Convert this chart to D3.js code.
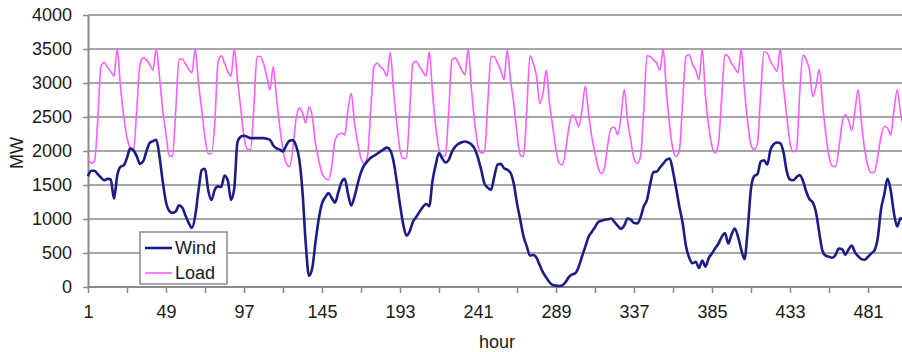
<!DOCTYPE html>
<html>
<head>
<meta charset="utf-8">
<script src="https://cdn.jsdelivr.net/npm/d3@7"></script>
<style>
  body { margin: 0; background: #fff; }
  svg { display: block; font-family: "Liberation Sans", Arial, sans-serif; }
</style>
</head>
<body>
<div id="chart"></div>
<script>
// hourly readings sampled every 2 hours (hour 1, 3, 5 ... 503), one row per day
const hours = d3.range(1, 505, 2);

const wind = [
  1630,1710,1710,1660,1610,1570,1590,1580,1300,1640,1770,1790,
  1900,2040,2010,1925,1810,1850,2000,2120,2145,2165,1920,1550,
  1250,1120,1090,1110,1200,1170,1050,940,870,1050,1420,1720,
  1740,1420,1280,1430,1480,1470,1640,1570,1280,1450,2130,2210,
  2225,2210,2190,2190,2190,2190,2190,2180,2165,2080,2040,2020,
  1995,2080,2150,2160,2080,1880,1400,640,165,280,660,1000,
  1230,1320,1380,1310,1240,1390,1540,1590,1370,1200,1330,1520,
  1690,1790,1850,1900,1930,1960,1995,2025,2050,2010,1850,1550,
  1210,920,755,820,960,1030,1105,1175,1220,1190,1560,1800,
  1970,1890,1830,1870,1990,2065,2105,2130,2140,2125,2095,2030,
  1900,1720,1520,1460,1430,1620,1800,1810,1745,1725,1680,1520,
  1230,990,745,600,460,470,430,320,215,140,70,30,
  20,15,25,75,150,185,205,300,446,590,735,810,
  880,955,975,990,995,1008,955,900,855,905,1005,990,
  940,935,1020,1185,1280,1520,1690,1697,1760,1815,1870,1890,
  1700,1440,1170,930,600,430,350,370,280,390,300,425,
  496,570,640,735,795,640,770,860,740,550,410,850,
  1450,1630,1660,1845,1865,1800,2020,2100,2125,2115,1980,1700,
  1580,1570,1615,1645,1560,1400,1290,1245,1100,800,530,460,
  445,430,470,565,560,475,550,610,510,450,410,400,
  445,495,540,720,1140,1360,1590,1420,1080,890,1010,980
];

const load = [
  1900,1820,1850,2450,3250,3300,3230,3170,3100,3500,2950,2500,
  2200,2040,2000,2600,3280,3370,3340,3270,3190,3500,3090,2600,
  2250,1930,1920,2600,3350,3350,3280,3200,3150,3500,3000,2600,
  2200,1960,1960,2400,3300,3400,3290,3170,3100,3500,3050,2630,
  2210,2030,2020,2600,3390,3390,3290,3100,2900,3240,2780,2360,
  2020,1820,1770,2020,2460,2630,2560,2410,2650,2510,2110,1870,
  1670,1600,1575,1770,2160,2240,2260,2240,2600,2850,2410,2110,
  1890,1820,1920,2600,3240,3290,3240,3190,3100,3450,2900,2410,
  2020,1890,1890,2600,3290,3320,3240,3170,3100,3460,2860,2360,
  2020,1920,1940,2600,3340,3370,3290,3190,3120,3500,2900,2410,
  2070,1970,1990,2700,3390,3390,3290,3190,3050,3490,3050,2700,
  2260,1940,1920,2600,3400,3290,3100,2700,2850,3190,2700,2360,
  2020,1820,1800,2020,2360,2530,2480,2360,2600,2950,2560,2210,
  1970,1750,1670,1770,2120,2340,2350,2240,2510,2900,2460,2160,
  1890,1820,1920,2600,3400,3390,3340,3290,3190,3500,2860,2360,
  2020,1920,2020,2750,3390,3420,3270,3190,3050,3500,2800,2360,
  2070,1970,2120,2800,3420,3390,3290,3220,3150,3500,2900,2410,
  2090,2020,2120,2860,3460,3440,3320,3240,3170,3500,2950,2510,
  2120,1990,2020,2860,3410,3340,3190,2800,2950,3200,2700,2260,
  1920,1780,1770,2020,2400,2530,2460,2300,2600,2900,2410,2020,
  1770,1680,1690,1920,2210,2360,2340,2240,2600,2900,2560,2350
];

const xTickHours = d3.range(1, 505, 24);
const xLabels = [1, 49, 97, 145, 193, 241, 289, 337, 385, 433, 481];
const yTicks = [0, 500, 1000, 1500, 2000, 2500, 3000, 3500, 4000];
const seriesNames = ['Wind', 'Load'];
const seriesColors = ['#1c1c84', '#ff5cff'];

const width = 902, height = 352;
const plotLeft = 88, plotTop = 15, plotBottom = 287, plotRight = 902;
const fontSize = 18;

const svg = d3.select('#chart').append('svg')
  .attr('width', width)
  .attr('height', height);

const x = d3.scaleLinear().domain([1, 504]).range([plotLeft, plotLeft + 503 * 1.625]);
const y = d3.scaleLinear().domain([0, 4000]).range([plotBottom, plotTop]);

// horizontal gridlines
svg.append('g')
  .selectAll('line')
  .data(yTicks.filter(d => d > 0))
  .enter().append('line')
  .attr('x1', plotLeft).attr('x2', plotRight)
  .attr('y1', d => y(d)).attr('y2', d => y(d))
  .attr('stroke', '#a6a6a6')
  .attr('stroke-width', 2);

// y axis
const yAxis = svg.append('g')
  .attr('transform', `translate(${plotLeft},0)`)
  .call(d3.axisLeft(y).tickValues(yTicks).tickFormat(d3.format('d'))
    .tickSize(5).tickPadding(11).tickSizeOuter(0));
yAxis.select('.domain').attr('stroke', '#8a8a8a').attr('stroke-width', 2);
yAxis.selectAll('.tick line').attr('stroke', '#8a8a8a').attr('stroke-width', 1.5);
yAxis.selectAll('text').attr('font-size', fontSize).attr('fill', '#1a1a1a');
yAxis.attr('font-family', null);

// x axis
const xAxis = svg.append('g')
  .attr('transform', `translate(0,${plotBottom})`)
  .call(d3.axisBottom(x).tickValues(xTickHours).tickSize(6).tickPadding(12).tickSizeOuter(0)
    .tickFormat(d => xLabels.includes(d) ? d : ''));
xAxis.select('.domain').attr('d', `M${plotLeft},0H${plotRight}`).attr('stroke', '#8a8a8a').attr('stroke-width', 2);
xAxis.selectAll('.tick line').attr('stroke', '#8a8a8a').attr('stroke-width', 1.5);
xAxis.selectAll('text').attr('font-size', fontSize).attr('fill', '#1a1a1a');
xAxis.attr('font-family', null);

// axis titles
svg.append('text')
  .attr('x', 497).attr('y', 348)
  .attr('text-anchor', 'middle')
  .attr('font-size', fontSize).attr('fill', '#1a1a1a')
  .text('hour');

svg.append('text')
  .attr('transform', 'translate(23,153) rotate(-90)')
  .attr('text-anchor', 'middle')
  .attr('font-size', fontSize).attr('fill', '#1a1a1a')
  .text('MW');

// lines
const line = d3.line()
  .x((d, i) => x(hours[i]))
  .y(d => y(d))
  .curve(d3.curveMonotoneX);

svg.append('path')
  .datum(load)
  .attr('d', line)
  .attr('fill', 'none')
  .attr('stroke', seriesColors[1])
  .attr('stroke-width', 1.6);

svg.append('path')
  .datum(wind)
  .attr('d', line)
  .attr('fill', 'none')
  .attr('stroke', seriesColors[0])
  .attr('stroke-width', 2.6);

// legend
const legend = svg.append('g').attr('transform', 'translate(140,232)');
legend.append('rect')
  .attr('width', 87).attr('height', 52)
  .attr('fill', '#fff')
  .attr('stroke', '#8a8a8a')
  .attr('stroke-width', 1.5);
seriesNames.forEach((name, i) => {
  legend.append('line')
    .attr('x1', 5).attr('x2', 32)
    .attr('y1', 16 + i * 25).attr('y2', 16 + i * 25)
    .attr('stroke', seriesColors[i])
    .attr('stroke-width', i === 0 ? 2.6 : 1.6);
  legend.append('text')
    .attr('x', 35).attr('y', 16 + i * 25)
    .attr('dy', '0.35em')
    .attr('font-size', fontSize).attr('fill', '#1a1a1a')
    .text(name);
});
</script>
</body>
</html>
